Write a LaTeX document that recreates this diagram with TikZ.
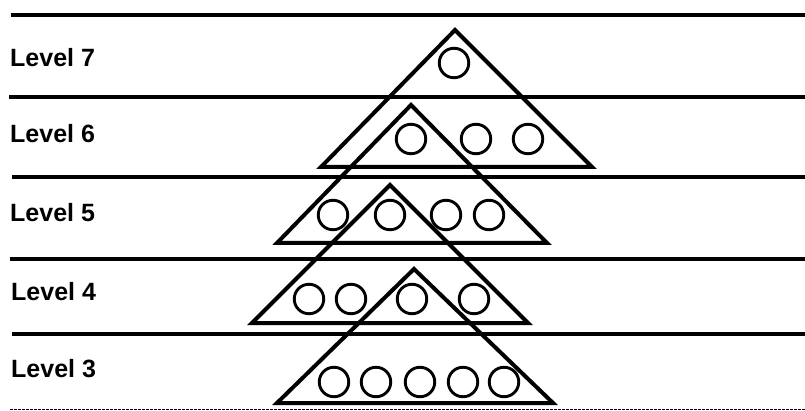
\documentclass[tikz,border=0pt]{standalone}
\usepackage{fontspec}
\setmainfont{Liberation Sans}
\begin{document}
\begin{tikzpicture}[x=1pt,y=-1pt,
  levellabel/.style={font=\bfseries\fontsize{25}{30}\selectfont, anchor=base west, inner sep=0pt},
  rule/.style={line width=4.4pt},
  thinrule/.style={line width=1.5pt, dash pattern=on 3pt off 1pt},
  tri/.style={line width=4pt, line join=miter},
  ball/.style={circle, draw, line width=2.9pt, minimum size=29.5pt, inner sep=0pt}]
\useasboundingbox (0,0) rectangle (805,411);

% level rules
\coordinate (L0) at (11,15);  \coordinate (R0) at (805,15);
\coordinate (L1) at (9,97);   \coordinate (R1) at (805,97);
\coordinate (L2) at (12,177); \coordinate (R2) at (805,177);
\coordinate (L3) at (10,259); \coordinate (R3) at (805,259);
\coordinate (L4) at (12,334); \coordinate (R4) at (805,334);
\coordinate (L5) at (10,409.5); \coordinate (R5) at (805,409.5);
\draw[rule] (L0) -- (R0);
\draw[rule] (L1) -- (R1);
\draw[rule] (L2) -- (R2);
\draw[rule] (L3) -- (R3);
\draw[rule] (L4) -- (R4);
\draw[thinrule] (L5) -- (R5);

% labels
\node[levellabel] (lv7) at (10,67)  {Level 7};
\node[levellabel] (lv6) at (10,143) {Level 6};
\node[levellabel] (lv5) at (10,222) {Level 5};
\node[levellabel] (lv4) at (11,301) {Level 4};
\node[levellabel] (lv3) at (11,377) {Level 3};

% triangles
\coordinate (A1) at (455,30);  \coordinate (A2) at (321,167); \coordinate (A3) at (592,167);
\coordinate (B1) at (411,105); \coordinate (B2) at (277,243); \coordinate (B3) at (547,243);
\coordinate (C1) at (390,185); \coordinate (C2) at (252,323); \coordinate (C3) at (528,323);
\coordinate (D1) at (414,269); \coordinate (D2) at (277,403); \coordinate (D3) at (553,403);
\draw[tri] (A1) -- (A2) -- (A3) -- cycle;
\draw[tri] (B1) -- (B2) -- (B3) -- cycle;
\draw[tri] (C1) -- (C2) -- (C3) -- cycle;
\draw[tri] (D1) -- (D2) -- (D3) -- cycle;

% balls
\node[ball] (b7a) at (454,63) {};
\node[ball] (b6a) at (411,139) {};
\node[ball] (b6b) at (476,139) {};
\node[ball] (b6c) at (528,139) {};
\node[ball] (b5a) at (333,215) {};
\node[ball] (b5b) at (390,215) {};
\node[ball] (b5c) at (446,215) {};
\node[ball] (b5d) at (489,215) {};
\node[ball] (b4a) at (309,299) {};
\node[ball] (b4b) at (351,299) {};
\node[ball] (b4c) at (412,299) {};
\node[ball] (b4d) at (474,299) {};
\node[ball] (b3a) at (334,382) {};
\node[ball] (b3b) at (376,382) {};
\node[ball] (b3c) at (420,382) {};
\node[ball] (b3d) at (463,382) {};
\node[ball] (b3e) at (504,382) {};
\end{tikzpicture}
\end{document}
